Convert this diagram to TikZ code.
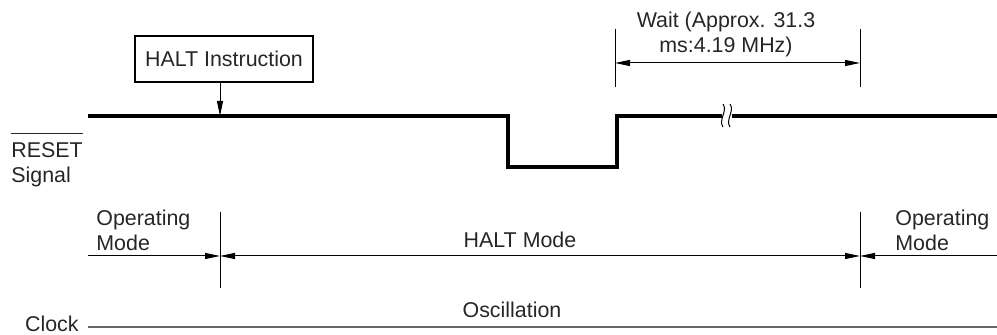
\documentclass[tikz,border=0pt]{standalone}
\usepackage{fontspec}
\setmainfont{Liberation Sans}
\usetikzlibrary{arrows.meta,positioning}
\newcommand{\resetbar}[1]{\vbox{\hrule height 0.5pt \kern 4pt \hbox{#1}}}

\begin{document}
\begin{tikzpicture}[
  x=0.5pt, y=-0.5pt,
  lbl/.style={inner sep=0pt, align=left, text=black!85, font=\fontsize{10.7}{12.5}\selectfont},
  hbox/.style={rectangle, draw, line width=1.4pt, minimum width=89pt, minimum height=23pt, inner sep=0pt, text=black!85, font=\fontsize{10.7}{12.5}\selectfont},
  sig/.style={line width=1.6pt, line join=miter},
  hair/.style={line width=0.5pt},
  arr/.style={-{Triangle[length=7.5pt,width=3pt]}, line width=0.5pt},
  darr/.style={{Triangle[length=7.5pt,width=3pt]}-{Triangle[length=7.5pt,width=3pt]}, line width=0.5pt}
]
\useasboundingbox (0,0) rectangle (997,335);

% RESET signal
\coordinate (s0) at (88,116);
\coordinate (fall) at (508,116);
\coordinate (rise) at (617,116);
\coordinate (brk) at (727,116);
\coordinate (s1) at (997,116);
\draw[sig] (s0) -- (fall) -- ++(0,51) -| (rise) -- ([xshift=-2.3pt]brk);
\draw[sig] ([xshift=2.3pt]brk) -- (s1);
\foreach \x in {723,730}
  \draw[hair] (\x,104) .. controls (\x+5,111) and (\x-5,120) .. (\x,127);
\node[lbl, anchor=west] (reset) at (11,160) {\resetbar{RESET}\\Signal};

% HALT instruction
\node[hbox] (halt) at (224,59) {HALT Instruction};
\coordinate (hin) at (220,116);
\draw[arr] (halt.south -| hin) -- (hin);

% wait time
\node[lbl, align=center] (wait) at (726,34) {Wait (Approx. 31.3\\ms:4.19 MHz)};
\coordinate (w0) at (615,63);
\coordinate (w1) at (860,63);
\draw[hair] (615,29) -- (615,87);
\draw[hair] (860,29) -- (860,87);
\draw[darr] (w0) -- (w1);

% modes
\coordinate (m0) at (88,256);
\coordinate (m1) at (220,256);
\coordinate (m2) at (860,256);
\coordinate (m3) at (997,256);
\draw[hair] (220,212) -- (220,288);
\draw[hair] (860,212) -- (860,288);
\draw[arr] (m0) -- (m1);
\draw[darr] (m1) -- (m2);
\draw[arr] (m3) -- (m2);
\node[lbl, anchor=west] (op1) at (96,230) {Operating\\Mode};
\node[lbl] (haltmode) at (520,240) {HALT Mode};
\node[lbl, anchor=west] (op2) at (895,230) {Operating\\Mode};

% clock
\coordinate (c0) at (88,327);
\coordinate (c1) at (997,327);
\draw[line width=0.6pt, black!60] (c0) -- (c1);
\node[lbl, anchor=east] (clk) at (79,324) {Clock};
\node[lbl] (osc) at (512,310) {Oscillation};
\end{tikzpicture}
\end{document}
